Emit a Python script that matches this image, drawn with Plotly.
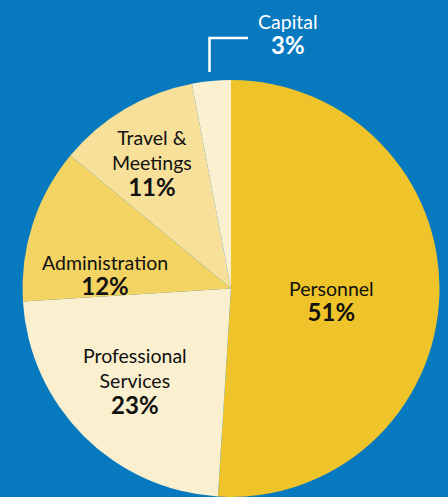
import plotly.graph_objects as go

categories = ["Personnel", "Professional Services", "Administration", "Travel & Meetings", "Capital"]
values = [51, 23, 12, 11, 3]
label_lines = ["Personnel", "Professional<br>Services", "Administration", "Travel &<br>Meetings", "Capital"]

colors = ["#EFC42A", "#FAF0CF", "#F3D362", "#F6E09A", "#FBF1D0"]
BG = "#0779BF"
W, H = 448, 497

fig = go.Figure(go.Pie(
    labels=categories,
    values=values,
    sort=False,
    direction="clockwise",
    rotation=0,
    marker=dict(colors=colors, line=dict(width=0)),
    textinfo="none",
    hoverinfo="label+percent",
    domain=dict(x=[20 / W, 442 / W], y=[0, 417 / H]),
    showlegend=False,
))

# label anchor positions (pixel centres of text blocks)
label_pos = [(331, 301), (135, 381), (105, 275), (152, 163), (288, 34)]
text_color = ["#111111", "#111111", "#111111", "#111111", "#FFFFFF"]

annotations = []
for name, v, (px, py), tc in zip(label_lines, values, label_pos, text_color):
    annotations.append(dict(
        x=px / W, y=1 - py / H, xref="paper", yref="paper",
        text=f"{name}<br><b><span style='font-size:24px'>{v}%</span></b>",
        showarrow=False, xanchor="center", yanchor="middle", align="center",
        font=dict(family="Lato, 'Source Sans Pro', sans-serif", size=19.5, color=tc),
    ))

fig.update_layout(
    width=W, height=H,
    margin=dict(l=0, r=0, t=0, b=0),
    paper_bgcolor=BG, plot_bgcolor=BG,
    annotations=annotations,
    shapes=[dict(type="path", xref="paper", yref="paper",
                 path=f"M {209.5/W} {1-72/H} L {209.5/W} {1-38/H} L {248/W} {1-38/H}",
                 line=dict(color="white", width=2.5))],
)

fig.write_html("out.html", config={"displayModeBar": False},
               post_script="document.body.style.margin='0';document.body.style.overflow='hidden';")
